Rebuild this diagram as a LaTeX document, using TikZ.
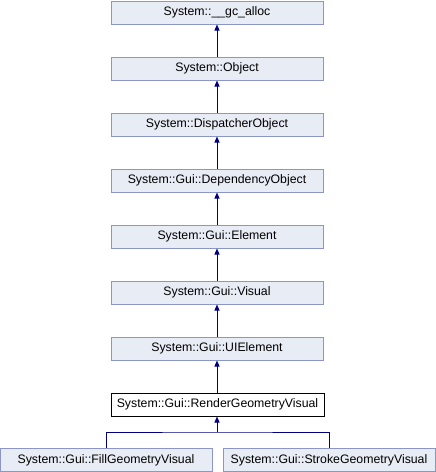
\documentclass[tikz,border=0pt]{standalone}
\usepackage{fontspec}
\setmainfont{Liberation Sans}
\usetikzlibrary{arrows.meta}
\definecolor{nodefill}{HTML}{E8ECF5}
\definecolor{nodeline}{HTML}{8C96C6}
\definecolor{edgecol}{HTML}{000080}
\begin{document}
\begin{tikzpicture}[x=1pt,y=-1pt,
  cls/.style={draw=nodeline,fill=nodefill,line width=1pt,minimum width=212pt,minimum height=23pt,inner sep=0pt,font=\fontsize{12.3}{14}\selectfont},
  cur/.style={cls,draw=black,fill=white},
  inh/.style={draw=edgecol,line width=1pt,{Triangle[length=6pt,width=5pt]}-}]
\useasboundingbox (0,0) rectangle (436,472);
\node[cls] (n0) at (217,12.5) {System::\_\_gc\_alloc};
\node[cls] (n1) at (217,68.5) {System::Object};
\node[cls] (n2) at (217,124.5) {System::DispatcherObject};
\node[cls] (n3) at (217,180.5) {System::Gui::DependencyObject};
\node[cls] (n4) at (217,236.5) {System::Gui::Element};
\node[cls] (n5) at (217,292.5) {System::Gui::Visual};
\node[cls] (n6) at (217,348.5) {System::Gui::UIElement};
\node[cur,minimum width=213pt] (n7) at (217.5,404.5) {System::Gui::RenderGeometryVisual};
\node[cls] (n8) at (106,460) {System::Gui::FillGeometryVisual};
\node[cls] (n9) at (329,460) {System::Gui::StrokeGeometryVisual};
\draw[inh] (n0.south) -- (n1.north);
\draw[inh] (n1.south) -- (n2.north);
\draw[inh] (n2.south) -- (n3.north);
\draw[inh] (n3.south) -- (n4.north);
\draw[inh] (n4.south) -- (n5.north);
\draw[inh] (n5.south) -- (n6.north);
\draw[inh] (n6.south) -- (n7.north -| n6.south);
\coordinate (j) at (217,432);
\draw[inh] (n7.south -| j) -- (j);
\draw[draw=edgecol,line width=1pt] (n8.north) |- (j) -| (n9.north);
\end{tikzpicture}
\end{document}
